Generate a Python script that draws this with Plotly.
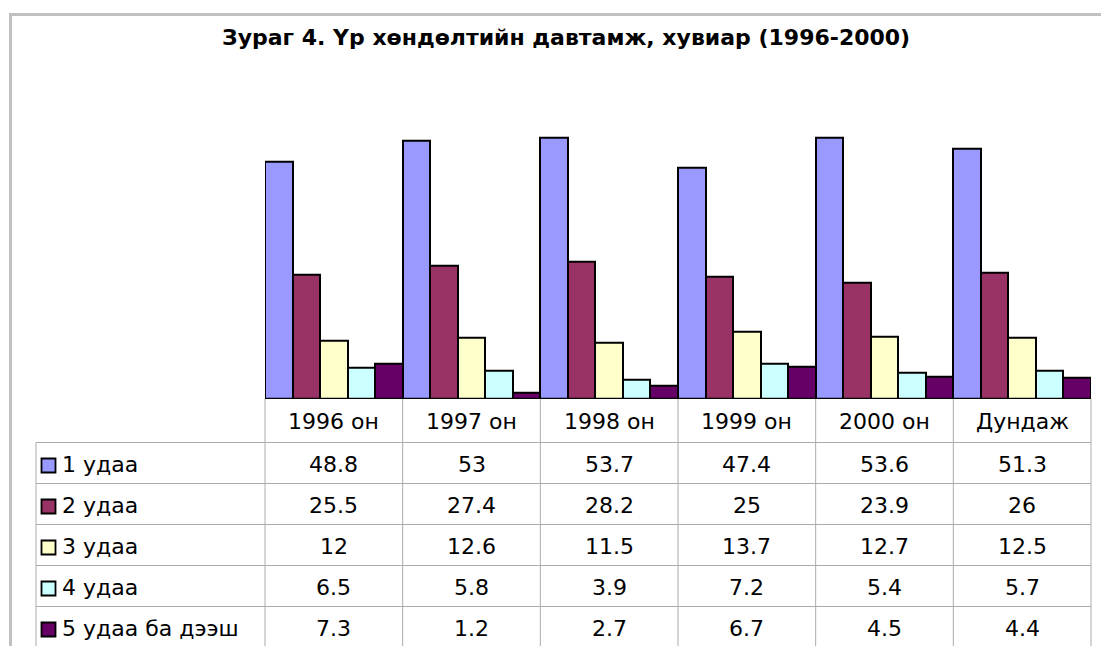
import plotly.graph_objects as go

# ---- data ----
categories = ["1996 он", "1997 он", "1998 он", "1999 он", "2000 он", "Дундаж"]
series_names = ["1 удаа", "2 удаа", "3 удаа", "4 удаа", "5 удаа ба дээш"]
once = [48.8, 53, 53.7, 47.4, 53.6, 51.3]
twice = [25.5, 27.4, 28.2, 25, 23.9, 26]
three = [12, 12.6, 11.5, 13.7, 12.7, 12.5]
four = [6.5, 5.8, 3.9, 7.2, 5.4, 5.7]
five_plus = [7.3, 1.2, 2.7, 6.7, 4.5, 4.4]
series_values = [once, twice, three, four, five_plus]
title_text = "Зураг 4. Үр хөндөлтийн давтамж, хувиар (1996-2000)"

colors = ["#9999FF", "#993366", "#FFFFCC", "#CCFFFF", "#660066"]

W, H = 1101, 646
FONT = "DejaVu Sans, Liberation Sans, Arial, sans-serif"

def px(xp):
    return xp / W

def py(yp):
    return 1 - yp / H

x_dom = [px(265), px(1091)]
y_dom = [py(399), py(106.8)]

fig = go.Figure()
for name, vals, col in zip(series_names, series_values, colors):
    fig.add_trace(go.Bar(
        x=categories, y=vals, name=name,
        marker=dict(color=col, line=dict(color="black", width=2)),
    ))

shapes = []
grid = dict(color="#ABABAB", width=1)
# frame
shapes.append(dict(type="line", xref="paper", yref="paper", x0=px(9), x1=1, y0=py(14.5), y1=py(14.5),
                   line=dict(color="#C0C0C0", width=3)))
shapes.append(dict(type="line", xref="paper", yref="paper", x0=px(10.5), x1=px(10.5), y0=py(13), y1=0,
                   line=dict(color="#C0C0C0", width=3)))

ncat = len(categories)
col_w = (x_dom[1] - x_dom[0]) / ncat
# table vertical lines
for i in range(ncat + 1):
    xx = x_dom[0] + i * col_w
    shapes.append(dict(type="line", xref="paper", yref="paper", x0=xx, x1=xx, y0=py(399), y1=0, line=grid))
# left border of label column
shapes.append(dict(type="line", xref="paper", yref="paper", x0=px(36), x1=px(36), y0=py(442.5), y1=0, line=grid))
# horizontal lines
header_bottom = 442.5
row_h = 41
for r in range(len(series_names)):
    yy = header_bottom + r * row_h
    shapes.append(dict(type="line", xref="paper", yref="paper", x0=px(36), x1=x_dom[1], y0=py(yy), y1=py(yy), line=grid))

annotations = []
annotations.append(dict(text=title_text, xref="paper", yref="paper", x=px(566), y=py(37.5),
                        xanchor="center", yanchor="middle", showarrow=False,
                        font=dict(family=FONT, size=22, color="black", weight="bold")))
# header labels
for c in categories:
    annotations.append(dict(text=c, xref="x", yref="paper", x=c, y=py(421), xanchor="center",
                            yanchor="middle", showarrow=False, font=dict(family=FONT, size=22, color="black")))
# rows
for r, (name, vals, col) in enumerate(zip(series_names, series_values, colors)):
    yc = header_bottom + r * row_h + row_h / 2 + 1.5
    annotations.append(dict(text=name, xref="paper", yref="paper", x=px(60), y=py(yc), xanchor="left",
                            yanchor="middle", showarrow=False, font=dict(family=FONT, size=22, color="black")))
    shapes.append(dict(type="rect", xref="paper", yref="paper", x0=px(41.5), x1=px(55.5),
                       y0=py(yc - 6), y1=py(yc + 8), fillcolor=col, line=dict(color="black", width=1.8)))
    for c, v in zip(categories, vals):
        annotations.append(dict(text=f"{v:g}", xref="x", yref="paper", x=c, y=py(yc), xanchor="center",
                                yanchor="middle", showarrow=False, font=dict(family=FONT, size=22, color="black")))

fig.update_layout(
    width=W, height=H, autosize=False,
    margin=dict(l=0, r=0, t=0, b=0),
    paper_bgcolor="white", plot_bgcolor="white",
    barmode="group", bargap=0, bargroupgap=0,
    showlegend=False,
    xaxis=dict(domain=x_dom, range=[-0.5, ncat - 0.5], showticklabels=False, showgrid=False,
               zeroline=False, showline=False, ticks=""),
    yaxis=dict(domain=y_dom, range=[0, 60], visible=False, showgrid=False, zeroline=False),
    shapes=shapes, annotations=annotations,
    font=dict(family=FONT),
)

fig.write_html("out.html", config={"displayModeBar": False},
               post_script="document.body.style.margin='0px';document.body.style.overflow='hidden';")
